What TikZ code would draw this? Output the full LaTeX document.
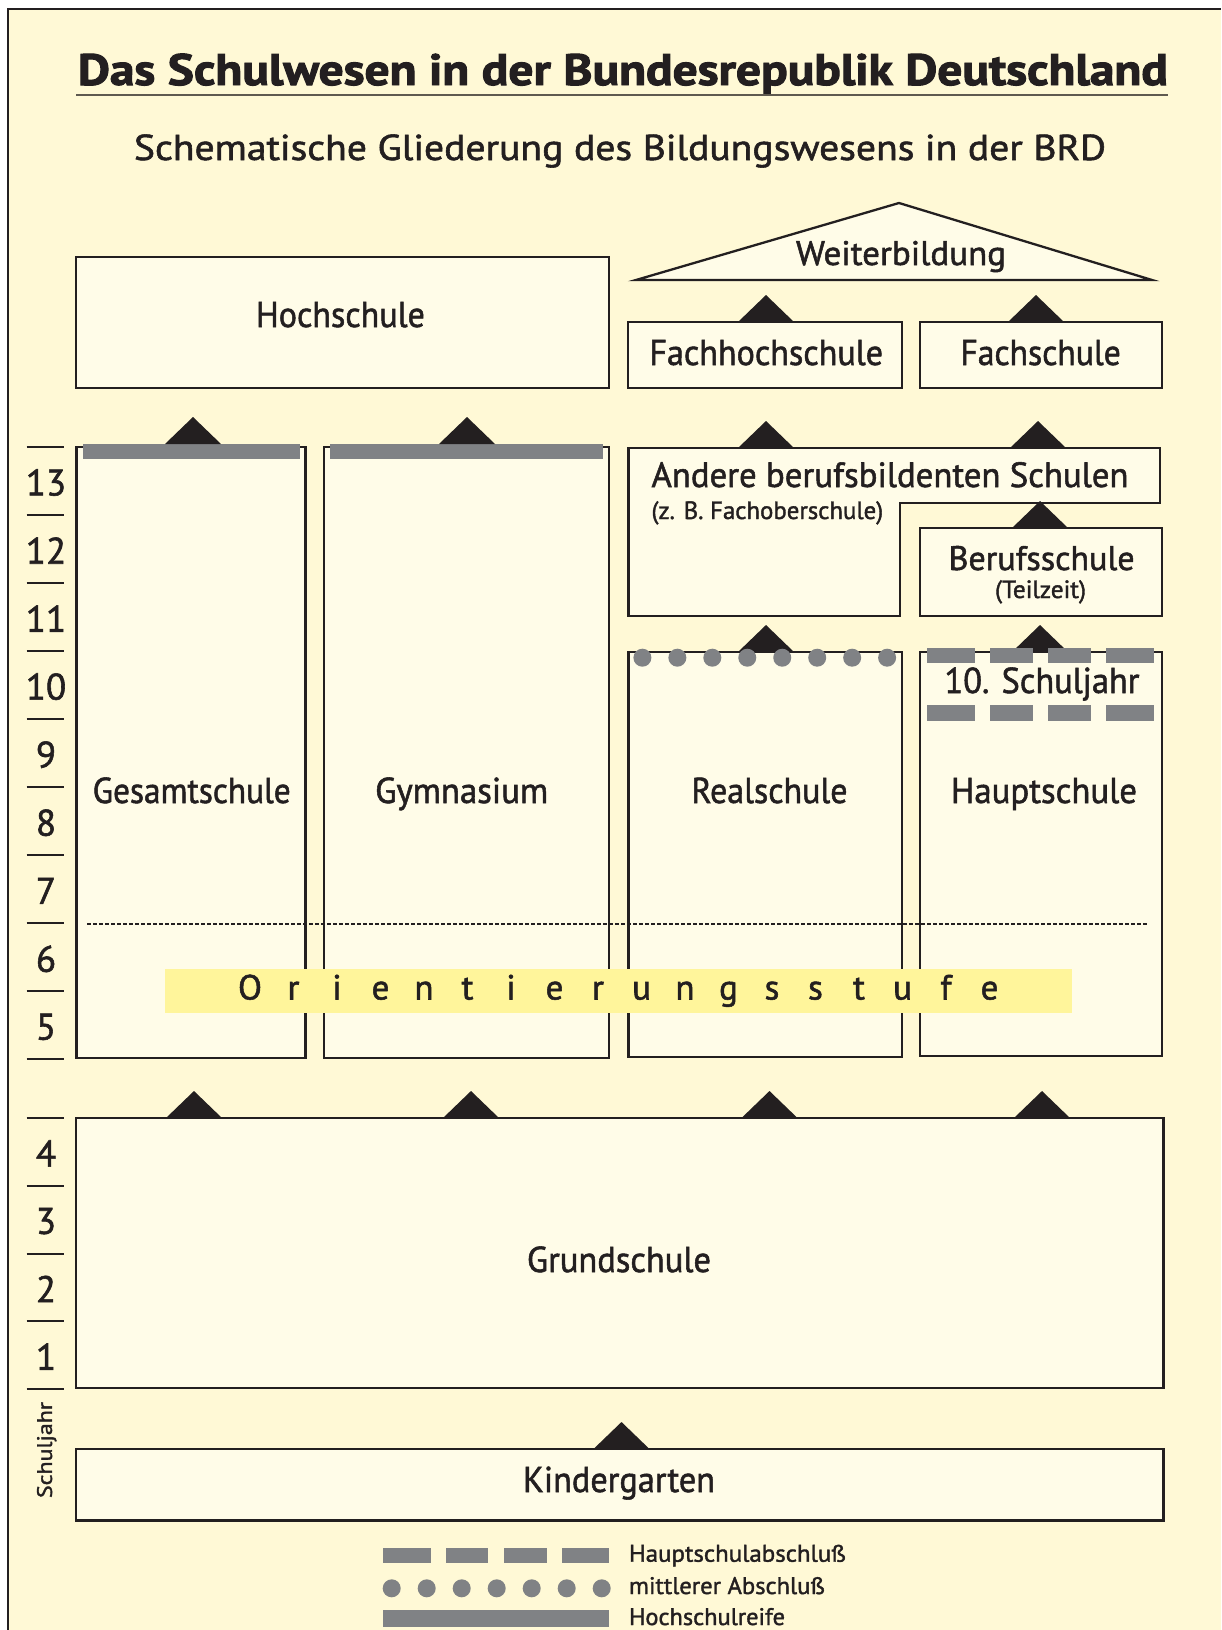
\documentclass[tikz,border=0pt]{standalone}
\usepackage{fontspec}
\setmainfont{PT Sans}[FakeBold=1.5]
\newfontfamily\heavyfont{PT Sans}[FakeBold=1.5, BoldFeatures={FakeBold=2.2}]
\usepackage{graphicx}
\usetikzlibrary{calc}
\definecolor{bg}{RGB}{255,249,214}
\definecolor{boxfill}{RGB}{255,252,232}
\definecolor{ink}{RGB}{35,31,32}
\definecolor{markgray}{RGB}{128,130,133}
\definecolor{bandyellow}{RGB}{255,245,155}
\definecolor{rulecol}{RGB}{95,90,80}
\newcommand{\fitw}[3]{\resizebox{#1pt}{\height}{\fontsize{#2pt}{#2pt}\selectfont #3}}
\newcommand{\uptri}[1]{\fill[tri] #1 ++(-28,0) -- ++(28,-27) -- ++(28,27) -- cycle;}
\tikzset{
  box/.style={draw=ink, fill=boxfill, line width=2.5pt, inner sep=0pt, outer sep=0pt, anchor=north west},
  boxline/.style={draw=ink, fill=boxfill, line width=2.5pt, line join=miter},
  lbl/.style={inner sep=0pt, outer sep=0pt, text=ink, anchor=base},
  lblw/.style={inner sep=0pt, outer sep=0pt, text=ink, anchor=base west},
  num/.style={inner sep=0pt, outer sep=0pt, text=ink, anchor=center, font=\fontsize{37pt}{37pt}\selectfont},
  tri/.style={fill=ink},
  mk/.style={fill=markgray},
  tickline/.style={draw=ink, line width=2pt},
}
\begin{document}
\begin{tikzpicture}[x=1pt,y=-1pt]
\useasboundingbox (0,0) rectangle (1221,1630);
\fill[white] (0,0) rectangle (1221,1630);
\fill[bg] (8.3,9) rectangle (1221,1630);
\draw[ink, line width=2.2pt] (8.3,1630) -- (8.3,9) -- (1221,9);

% title
\node[lbl] (title) at (623,85) {\fitw{1090}{44}{\heavyfont\bfseries Das Schulwesen in der Bundesrepublik Deutschland}};
\coordinate (ul-l) at (76,95);
\coordinate (ul-r) at (1168,95);
\draw[rulecol, line width=2pt] (ul-l) -- (ul-r);
\node[lbl] (subtitle) at (620,160) {\fitw{972}{36}{Schematische Gliederung des Bildungswesens in der BRD}};

% Weiterbildung
\coordinate (wb-l) at (636,280);
\coordinate (wb-a) at (899,203);
\coordinate (wb-r) at (1152,280);
\draw[boxline, line width=2.3pt] (wb-l) -- (wb-a) -- (wb-r) -- cycle;
\node[lbl] (t-wb) at (901,265) {\fitw{210}{34}{Weiterbildung}};

% boxes
\node[box, minimum width=533pt, minimum height=131pt] (hoch) at (76,257) {};
\node[box, minimum width=274pt, minimum height=66pt] (fhs) at (628,322) {};
\node[box, minimum width=242pt, minimum height=66pt] (fs) at (920,322) {};
\node[box, minimum width=242pt, minimum height=88pt] (berufs) at (920,528) {};
\node[box, minimum width=229pt, minimum height=611pt] (gesamt) at (76.7,447) {};
\node[box, minimum width=285pt, minimum height=611pt] (gym) at (324,447) {};
\node[box, minimum width=273.5pt, minimum height=405pt] (real) at (628.5,652) {};
\node[box, minimum width=242pt, minimum height=404pt] (haupt) at (920,652) {};
\node[box, minimum width=1087.5pt, minimum height=270pt] (grund) at (76,1118) {};
\node[box, minimum width=1087.5pt, minimum height=71.5pt] (kinder) at (76,1449) {};

% Andere berufsbildenden Schulen (stepped outline)
\coordinate (and-nw) at (628.5,448);
\coordinate (and-ne) at (1160,448);
\coordinate (and-se) at (1160,503);
\coordinate (and-st) at (900,503);
\coordinate (and-s) at (900,616);
\coordinate (and-sw) at (628.5,616);
\draw[boxline] (and-nw) -- (and-ne) -- (and-se) -- (and-st) -- (and-s) -- (and-sw) -- cycle;

% Hochschulreife bars
\node[mk, inner sep=0pt, anchor=north west, minimum width=217.3pt, minimum height=15pt] (hr-gesamt) at (82.7,444) {};
\node[mk, inner sep=0pt, anchor=north west, minimum width=273.4pt, minimum height=15pt] (hr-gym) at (329.6,444) {};

% connecting triangles
\uptri{(766,0 |- fhs.north)}
\uptri{(1036,0 |- fs.north)}
\uptri{(766,0 |- and-nw)}
\uptri{(1038,0 |- and-nw)}
\uptri{(193,0 |- hr-gesamt.north)}
\uptri{(467,0 |- hr-gym.north)}
\uptri{(1040,0 |- berufs.north)}
\uptri{(766,0 |- real.north)}
\uptri{(1040,0 |- haupt.north)}
\uptri{(194,0 |- grund.north)}
\uptri{(471,0 |- grund.north)}
\uptri{(769.5,0 |- grund.north)}
\uptri{(1042,0 |- grund.north)}
\uptri{(621.5,0 |- kinder.north)}

% mittlerer Abschluss dots on Realschule
\foreach \k in {0,...,7} \fill[mk] ({642.4+34.96*\k},657.7) circle (9pt);
% Hauptschulabschluss dashes
\foreach \a/\b in {927/975, 990/1033, 1047.5/1091, 1106/1154} {
  \fill[mk] (\a,648) rectangle (\b,663);
  \fill[mk] (\a,705) rectangle (\b,721);
}

% labels
\node[lbl] (t-hoch) at (340.4,327) {\fitw{169}{36}{Hochschule}};
\node[lbl] (t-fhs) at (766.2,365) {\fitw{233.7}{36}{Fachhochschule}};
\node[lbl] (t-fs) at (1040.6,365) {\fitw{160.4}{36}{Fachschule}};
\node[lblw] (t-and) at (651.5,487) {\fitw{477}{35}{Andere berufsbildenten Schulen}};
\node[lblw] (t-and2) at (651.5,519) {\fitw{231.7}{25}{(z. B. Fachoberschule)}};
\node[lbl] (t-berufs) at (1041.6,570) {\fitw{186}{34}{Berufsschule}};
\node[lbl] (t-teil) at (1040.5,598) {\fitw{91}{25}{(Teilzeit)}};
\node[lbl] (t-10) at (1042,693) {\fitw{195}{36}{10. Schuljahr}};
\node[lbl] (t-gesamt) at (191.7,803) {\fitw{198}{36}{Gesamtschule}};
\node[lbl] (t-gym) at (461.7,803) {\fitw{173}{36}{Gymnasium}};
\node[lbl] (t-real) at (769.5,803) {\fitw{156}{36}{Realschule}};
\node[lbl] (t-haupt) at (1044,803) {\fitw{186}{36}{Hauptschule}};
\node[lbl] (t-grund) at (619,1272) {\fitw{184}{36}{Grundschule}};
\node[lbl] (t-kinder) at (619,1492) {\fitw{192}{36}{Kindergarten}};

% dashed divider
\coordinate (div-l) at (87,924);
\coordinate (div-r) at (1148,924);
\draw[ink, line width=1.2pt, dash pattern=on 3.5pt off 2.5pt] (div-l) -- (div-r);

% Orientierungsstufe band
\fill[bandyellow] (165,969) rectangle (1072,1013);
\foreach \c [count=\i from 0] in {O,r,i,e,n,t,i,e,r,u,n,g,s,s,t,u,f,e}
  \node[lbl] (or\i) at ({250+43.5*\i},999.5) {\fontsize{35pt}{35pt}\selectfont\c};

% school-year scale
\foreach \i in {0,...,9} \draw[tickline] (26.7,{447+68.05*\i}) -- (64.3,{447+68.05*\i});
\foreach \n [count=\i from 0] in {13,12,11,10,9,8,7,6,5}
  \node[num] (yr\n) at (46,{447+68.05*\i+35.5}) {\n};
\foreach \i in {0,...,4} \draw[tickline] (26.7,{1118+67.75*\i}) -- (64.3,{1118+67.75*\i});
\foreach \n [count=\i from 0] in {4,3,2,1}
  \node[num] (yr\n) at (46,{1118+67.75*\i+35.4}) {\n};
\node[inner sep=0pt, text=ink, rotate=90] (t-sj) at (46.7,1450) {\fitw{96}{21}{Schuljahr}};

% legend
\foreach \a/\b in {383/431, 445.7/488, 504/546.7, 561.7/609} \fill[mk] (\a,1547.7) rectangle (\b,1563);
\foreach \k in {0,...,6} \fill[mk] ({391.7+35*\k},1588.3) circle (9pt);
\fill[mk] (383,1610) rectangle (609,1627);
\node[lblw] (lg1) at (629,1561.7) {\fitw{217}{24}{Hauptschulabschluß}};
\node[lblw] (lg2) at (629,1594) {\fitw{196}{24}{mittlerer Abschluß}};
\node[lblw] (lg3) at (629,1625) {\fitw{156}{24}{Hochschulreife}};
\end{tikzpicture}
\end{document}
